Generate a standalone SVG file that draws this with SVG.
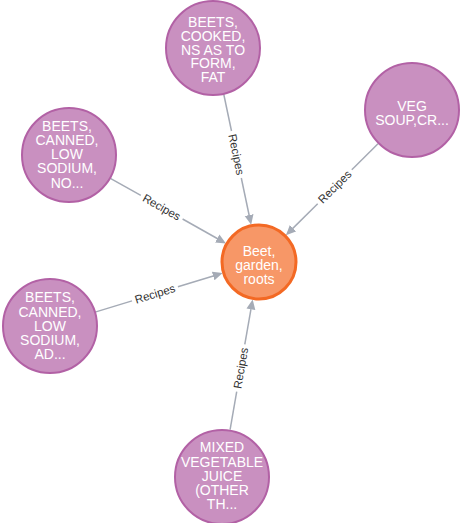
<svg xmlns="http://www.w3.org/2000/svg" width="462" height="523" viewBox="0 0 462 523">
<style>
.bg{fill:#ffffff}
.edge{stroke:#a5abb6;stroke-width:1.5;fill:none}
.elabel{font-family:"Liberation Sans",Arial,sans-serif;font-size:11.5px;fill:#333333;text-anchor:middle}
.food{fill:#c990c0;stroke:#b261a5;stroke-width:2}
.main{fill:#f79767;stroke:#f36924;stroke-width:3}
.ntext{font-family:"Liberation Sans",Arial,sans-serif;font-size:14px;fill:#ffffff;text-anchor:middle}
</style>
<defs>
<marker id="arrow" markerUnits="userSpaceOnUse" markerWidth="12" markerHeight="10" viewBox="0 -5 12 10" refX="1" refY="0" orient="auto">
<path d="M0,-4.5 L10,0 L0,4.5 Z" fill="#a5abb6"/>
</marker>
</defs>
<rect class="bg" x="0" y="0" width="462" height="523"/>
<g id="connectors">
<g id="e1">
<line class="edge" x1="223.7" y1="94.0" x2="231.5" y2="131.0"/>
<line class="edge" x1="241.3" y1="178.0" x2="249.3" y2="216.0" marker-end="url(#arrow)"/>
<text class="elabel" transform="translate(236.4,154.5) rotate(78.1)" y="4">Recipes</text>
</g>
<g id="e2">
<line class="edge" x1="378.0" y1="143.8" x2="351.8" y2="169.8"/>
<line class="edge" x1="317.7" y1="203.7" x2="292.3" y2="228.9" marker-end="url(#arrow)"/>
<text class="elabel" transform="translate(334.8,186.7) rotate(-44.8)" y="4">Recipes</text>
</g>
<g id="e3">
<line class="edge" x1="110.8" y1="178.6" x2="140.8" y2="195.4"/>
<line class="edge" x1="182.6" y1="219.0" x2="218.1" y2="239.0" marker-end="url(#arrow)"/>
<text class="elabel" transform="translate(161.7,207.2) rotate(29.4)" y="4">Recipes</text>
</g>
<g id="e4">
<line class="edge" x1="95.9" y1="311.9" x2="132.0" y2="300.9"/>
<line class="edge" x1="177.9" y1="286.8" x2="214.1" y2="275.7" marker-end="url(#arrow)"/>
<text class="elabel" transform="translate(155.0,293.9) rotate(-17.0)" y="4">Recipes</text>
</g>
<g id="e5">
<line class="edge" x1="230.1" y1="429.7" x2="236.7" y2="391.7"/>
<line class="edge" x1="244.8" y1="344.4" x2="251.1" y2="308.3" marker-end="url(#arrow)"/>
<text class="elabel" transform="translate(240.8,368.0) rotate(-80.2)" y="4">Recipes</text>
</g>
</g>
<g id="n-beet">
<circle class="main" cx="259" cy="262" r="37"/>
<text class="ntext" x="259"><tspan x="259" y="255.7">Beet,</tspan><tspan x="259" y="270">garden,</tspan><tspan x="259" y="284">roots</tspan></text>
</g>
<g id="n-cooked">
<circle class="food" cx="213" cy="48" r="47"/>
<text class="ntext"><tspan x="213" y="26.7">BEETS,</tspan><tspan x="213" y="40.6">COOKED,</tspan><tspan x="213" y="54.5">NS AS TO</tspan><tspan x="213" y="68.4">FORM,</tspan><tspan x="213" y="82.3">FAT</tspan></text>
</g>
<g id="n-veg">
<circle class="food" cx="412" cy="110" r="47"/>
<text class="ntext"><tspan x="412" y="110.7">VEG</tspan><tspan x="412" y="124.5">SOUP,CR...</tspan></text>
</g>
<g id="n-canned-no">
<circle class="food" cx="69" cy="155" r="47"/>
<text class="ntext"><tspan x="67" y="130.7">BEETS,</tspan><tspan x="67" y="144.9">CANNED,</tspan><tspan x="67" y="159.1">LOW</tspan><tspan x="67" y="173.3">SODIUM,</tspan><tspan x="67" y="187.5">NO...</tspan></text>
</g>
<g id="n-canned-ad">
<circle class="food" cx="50" cy="326" r="47"/>
<text class="ntext"><tspan x="50" y="302.3">BEETS,</tspan><tspan x="50" y="316.5">CANNED,</tspan><tspan x="50" y="330.7">LOW</tspan><tspan x="50" y="344.9">SODIUM,</tspan><tspan x="50" y="359.1">AD...</tspan></text>
</g>
<g id="n-mixed">
<circle class="food" cx="222" cy="477" r="47"/>
<text class="ntext"><tspan x="222" y="452.3">MIXED</tspan><tspan x="222" y="466.5">VEGETABLE</tspan><tspan x="222" y="480.7">JUICE</tspan><tspan x="222" y="494.9">(OTHER</tspan><tspan x="222" y="509.1">TH...</tspan></text>
</g>
</svg>
